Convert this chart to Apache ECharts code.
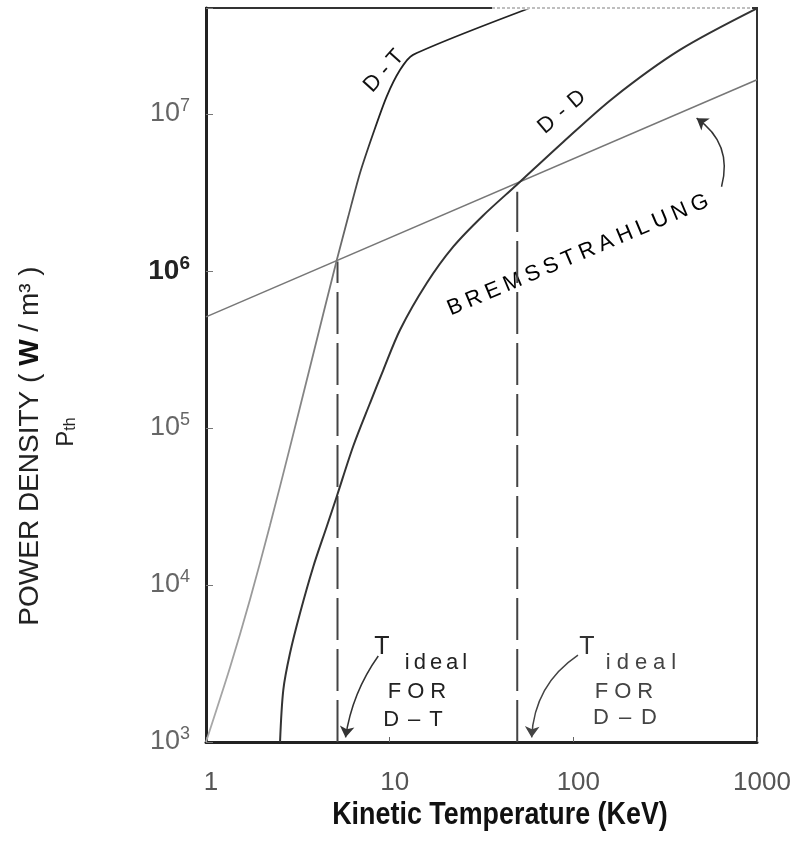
<!DOCTYPE html>
<html><head><meta charset="utf-8">
<script src="https://cdn.jsdelivr.net/npm/echarts@6/dist/echarts.min.js"></script>
<style>html,body{margin:0;padding:0;background:#fff}#c{width:805px;height:841px}</style>
</head><body><div id="c"></div>
<script>
// ---- data ----
const dtT = [1.0, 1.351, 1.736, 2.229, 2.862, 3.68, 5.15, 5.95, 6.89, 8.14, 9.63, 11.4, 13.4, 58];
const dtP = [1000, 2980, 8070, 23900, 75000, 2.43e5, 1.17e6, 2.22e6, 4.19e6, 7.53e6, 1.29e7, 1.91e7, 2.38e7, 4.73e7];
const ddT = [2.53, 2.635, 2.866, 3.249, 3.838, 4.54, 5.146, 6.337, 7.81, 9.23, 11.38, 15.9, 22.2, 32.3, 49.1, 88.1, 164.9, 380.4, 1000];
const ddP = [1000, 2143, 3672, 6607, 13080, 23510, 36500, 76800, 1.437e5, 2.34e5, 4.21e5, 8.35e5, 1.428e6, 2.257e6, 3.53e6, 6.63e6, 1.265e7, 2.556e7, 4.7e7];
const bremT = [1, 1000];
const bremP = [5.1e5, 1.65e7];
const idealDT = [[5.2, 1000], [5.2, 1.15e6]];
const idealDD = [[49.5, 1000], [49.5, 3.2e6]];
const arrowDT = [[8.67, 3530], [5.75, 1070]];
const arrowDD = [[106, 3580], [59.3, 1070]];
const arrowBrem = [[641, 3.44e6], [469, 9.4e6]];
const xTicks = [1, 10, 100, 1000];
const yTicks = [1e3, 1e4, 1e5, 1e6, 1e7];
const xRange = [1, 1000];
const yRange = [1e3, 4.73e7];

const zip = (a, b) => a.map((v, i) => [v, b[i]]);
const spaced = (s, k) => s.split('').map(c => '{' + k + '|' + c + '}').join('');
const FONT = 'Liberation Sans, Arial, sans-serif';

const chart = echarts.init(document.getElementById('c'));
const isTick = (v, arr) => arr.some(t => Math.abs(Math.log10(v) - Math.log10(t)) < 1e-6);

chart.setOption({
  animation: false,
  backgroundColor: '#fff',
  grid: { left: 206, right: 48, top: 8, bottom: 99, show: true, borderColor: '#333', borderWidth: 2 },
  xAxis: {
    type: 'log', logBase: 10, min: xRange[0], max: xRange[1],
    axisLine: { lineStyle: { color: '#222', width: 3 } },
    axisTick: { inside: true, length: 5, lineStyle: { color: '#666' } },
    splitLine: { show: false },
    axisLabel: {
      margin: 28, color: '#555', fontSize: 26, fontFamily: FONT, padding: [0, 0, 0, 10],
      formatter: v => isTick(v, xTicks) ? String(Math.round(v)) : ''
    }
  },
  yAxis: {
    type: 'log', logBase: 10, min: yRange[0], max: yRange[1],
    axisLine: { lineStyle: { color: '#222', width: 3 } },
    axisTick: { inside: true, length: 7, lineStyle: { color: '#777' } },
    splitLine: { show: false },
    axisLabel: {
      margin: 16,
      formatter: v => {
        if (!isTick(v, yTicks)) return '';
        const e = Math.round(Math.log10(v));
        return e === 6 ? '{bd|10}{ed|' + e + '}' : '{b|10}{e|' + e + '}';
      },
      rich: {
        b: { fontSize: 27, lineHeight: 34, color: '#666', fontFamily: FONT },
        e: { fontSize: 18, lineHeight: 18, color: '#666', fontFamily: FONT, verticalAlign: 'top' },
        bd: { fontSize: 28, lineHeight: 34, color: '#222', fontFamily: FONT, fontWeight: 'bold' },
        ed: { fontSize: 19, lineHeight: 18, color: '#222', fontFamily: FONT, fontWeight: 'bold', verticalAlign: 'top' }
      }
    }
  },
  series: [
    { type: 'line', data: idealDT, symbol: 'none', z: 1,
      lineStyle: { color: '#444', width: 2, type: [42, 9] } },
    { type: 'line', data: idealDD, symbol: 'none', z: 1,
      lineStyle: { color: '#444', width: 2, type: [42, 9] } },
    { type: 'line', data: zip(bremT, bremP), symbol: 'none', z: 2,
      lineStyle: { color: '#777', width: 1.6 } },
    { type: 'line', data: zip(ddT, ddP), symbol: 'none', smooth: 0.3, z: 3,
      lineStyle: { color: '#333', width: 2 } },
    { type: 'line', data: zip(dtT, dtP), symbol: 'none', smooth: 0.25, z: 3,
      lineStyle: { width: 1.8, color: new echarts.graphic.LinearGradient(0, 0, 0, 1, [
        { offset: 0, color: '#222' }, { offset: 0.15, color: '#222' },
        { offset: 0.35, color: '#777' }, { offset: 1, color: '#aaa' }]) } },
    { type: 'lines', coordinateSystem: 'cartesian2d', z: 4,
      symbol: ['none', 'arrow'], symbolSize: 11,
      lineStyle: { color: '#333', width: 1.5, opacity: 1 },
      data: [
        { coords: arrowDT, lineStyle: { curveness: -0.12 } },
        { coords: arrowDD, lineStyle: { curveness: -0.25, color: '#444' } },
        { coords: arrowBrem, lineStyle: { curveness: -0.35 } }
      ] }
  ],
  graphic: [
    // faded right part of the top frame
    { type: 'line', z: 50, shape: { x1: 492, y1: 8, x2: 752, y2: 8 }, style: { stroke: '#fff', lineWidth: 3 } },
    { type: 'line', z: 51, shape: { x1: 492, y1: 8, x2: 752, y2: 8 }, style: { stroke: '#aaa', lineWidth: 1.5, lineDash: [3, 2] } },
    { type: 'text', x: 500, y: 815, scaleX: 0.84, style: { text: 'Kinetic Temperature (KeV)', fill: '#111',
      font: 'bold 32px "Liberation Sans", sans-serif', align: 'center', verticalAlign: 'middle' } },
    { type: 'text', x: 30, y: 446, rotation: Math.PI / 2, style: {
      text: '{n|POWER DENSITY ( }{w|W}{n| / m³ )}', align: 'center', verticalAlign: 'middle',
      rich: { n: { fontSize: 28, fontFamily: FONT, fill: '#222' }, w: { fontSize: 28, fontWeight: 'bold', fontFamily: FONT, fill: '#111' } } } },
    { type: 'text', x: 66, y: 432, rotation: Math.PI / 2, style: {
      text: '{p|P}{s|th}', align: 'center', verticalAlign: 'middle',
      rich: { p: { fontSize: 24, fontFamily: FONT, fill: '#222', lineHeight: 26 }, s: { fontSize: 16, fontFamily: FONT, fill: '#222', verticalAlign: 'bottom', lineHeight: 16 } } } },
    { type: 'text', x: 384, y: 71, rotation: 0.84, style: {
      text: spaced('D-T', 'k'), align: 'center', verticalAlign: 'middle',
      rich: { k: { fontSize: 22, fontFamily: FONT, fill: '#111', padding: [0, 3, 0, 3] } } } },
    { type: 'text', x: 562, y: 112, rotation: 0.70, style: {
      text: spaced('D-D', 'k'), align: 'center', verticalAlign: 'middle',
      rich: { k: { fontSize: 22, fontFamily: FONT, fill: '#111', padding: [0, 4, 0, 4] } } } },
    { type: 'text', x: 578, y: 255, rotation: 0.40, style: {
      text: spaced('BREMSSTRAHLUNG', 'k'), align: 'center', verticalAlign: 'middle',
      rich: { k: { fontSize: 22, fontFamily: FONT, fill: '#000', padding: [0, 2.6, 0, 2.6] } } } },
    // T ideal for D-T
    { type: 'text', x: 382, y: 647, style: { text: 'T', font: '25px ' + FONT, fill: '#222', align: 'center', verticalAlign: 'middle' } },
    { type: 'text', x: 436, y: 663, style: { text: spaced('ideal', 'k'), align: 'center', verticalAlign: 'middle',
      rich: { k: { fontSize: 22, fontFamily: FONT, fill: '#222', padding: [0, 2, 0, 2] } } } },
    { type: 'text', x: 417, y: 692, style: { text: spaced('FOR', 'k'), align: 'center', verticalAlign: 'middle',
      rich: { k: { fontSize: 22, fontFamily: FONT, fill: '#222', padding: [0, 3, 0, 3] } } } },
    { type: 'text', x: 413, y: 720, style: { text: spaced('D–T', 'k'), align: 'center', verticalAlign: 'middle',
      rich: { k: { fontSize: 22, fontFamily: FONT, fill: '#222', padding: [0, 4.5, 0, 4.5] } } } },
    // T ideal for D-D
    { type: 'text', x: 587, y: 647, style: { text: 'T', font: '25px ' + FONT, fill: '#333', align: 'center', verticalAlign: 'middle' } },
    { type: 'text', x: 641, y: 663, style: { text: spaced('ideal', 'k'), align: 'center', verticalAlign: 'middle',
      rich: { k: { fontSize: 22, fontFamily: FONT, fill: '#444', padding: [0, 3, 0, 3] } } } },
    { type: 'text', x: 624, y: 692, style: { text: spaced('FOR', 'k'), align: 'center', verticalAlign: 'middle',
      rich: { k: { fontSize: 22, fontFamily: FONT, fill: '#444', padding: [0, 3, 0, 3] } } } },
    { type: 'text', x: 625, y: 718, style: { text: spaced('D–D', 'k'), align: 'center', verticalAlign: 'middle',
      rich: { k: { fontSize: 22, fontFamily: FONT, fill: '#444', padding: [0, 5, 0, 5] } } } }
  ]
});
</script></body></html>
